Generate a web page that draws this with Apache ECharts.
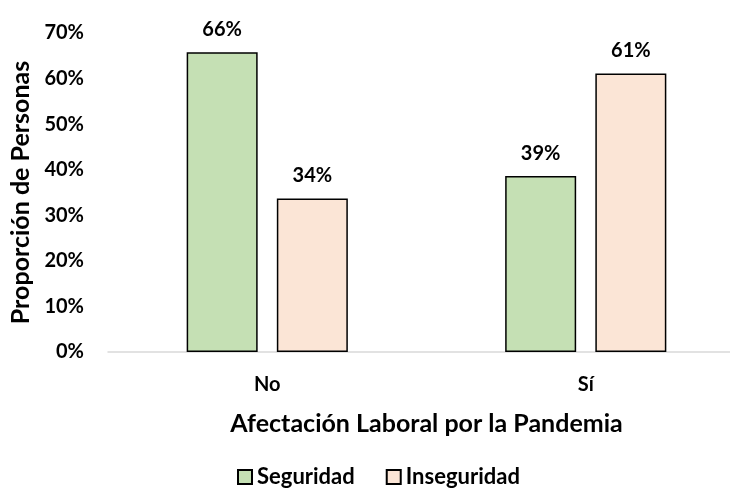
<!DOCTYPE html>
<html>
<head>
<meta charset="utf-8">
<script src="https://cdn.jsdelivr.net/npm/echarts@6/dist/echarts.min.js"></script>
<style>html,body{margin:0;padding:0;background:#fff}</style>
</head>
<body>
<div id="main" style="width:730px;height:490px"></div>
<script>
// datos
const categories = ['No', 'Sí']
const seguridad = [65.8, 38.6]
const inseguridad = [33.7, 61.1]
const yTicks = [0, 10, 20, 30, 40, 50, 60, 70]

const font = 'Lato, "Open Sans", sans-serif'
const chart = echarts.init(document.getElementById('main'))

const labelStyle = {
  show: true,
  position: 'top',
  distance: 13,
  formatter: p => Math.round(p.value) + '%',
  fontFamily: font,
  fontWeight: 'bold',
  fontSize: 20,
  color: '#000'
}

chart.setOption({
  animation: false,
  // el eje sigue más allá del borde derecho, como en el original
  grid: { left: 108, width: 637, top: 33, height: 319, outerBoundsMode: 'none', containLabel: false },
  legend: {
    top: 466,
    left: 237,
    padding: 0,
    itemWidth: 14,
    itemHeight: 14,
    itemGap: 31,
    icon: 'rect',
    textStyle: { fontFamily: font, fontWeight: 'bold', fontSize: 22, color: '#000' },
    data: ['Seguridad', 'Inseguridad']
  },
  xAxis: {
    type: 'category',
    data: categories,
    name: 'Afectación Laboral por la Pandemia',
    nameLocation: 'middle',
    nameGap: 59,
    nameTextStyle: { fontFamily: font, fontWeight: 'bold', fontSize: 25, color: '#000' },
    axisLine: { lineStyle: { color: '#d9d9d9', width: 1.5 } },
    axisTick: { show: false },
    axisLabel: { margin: 23, fontFamily: font, fontWeight: 'bold', fontSize: 20, color: '#000' }
  },
  yAxis: {
    type: 'value',
    min: yTicks[0],
    max: yTicks[yTicks.length - 1],
    interval: 10,
    name: 'Proporción de Personas',
    nameLocation: 'middle',
    nameGap: 72,
    nameTextStyle: { fontFamily: font, fontWeight: 'bold', fontSize: 25, color: '#000' },
    axisLine: { show: false },
    axisTick: { show: false },
    splitLine: { show: false },
    axisLabel: {
      margin: 24,
      formatter: '{value}%',
      fontFamily: font, fontWeight: 'bold', fontSize: 20, color: '#000'
    }
  },
  series: [{
    name: 'Seguridad',
    type: 'bar',
    data: seguridad,
    barWidth: 71,
    barGap: '27%',
    itemStyle: { color: '#c5e0b4', borderColor: '#000', borderWidth: 1.5 },
    label: labelStyle
  }, {
    name: 'Inseguridad',
    type: 'bar',
    data: inseguridad,
    barWidth: 71,
    itemStyle: { color: '#fbe5d6', borderColor: '#000', borderWidth: 1.5 },
    label: labelStyle
  }]
})
</script>
</body>
</html>
